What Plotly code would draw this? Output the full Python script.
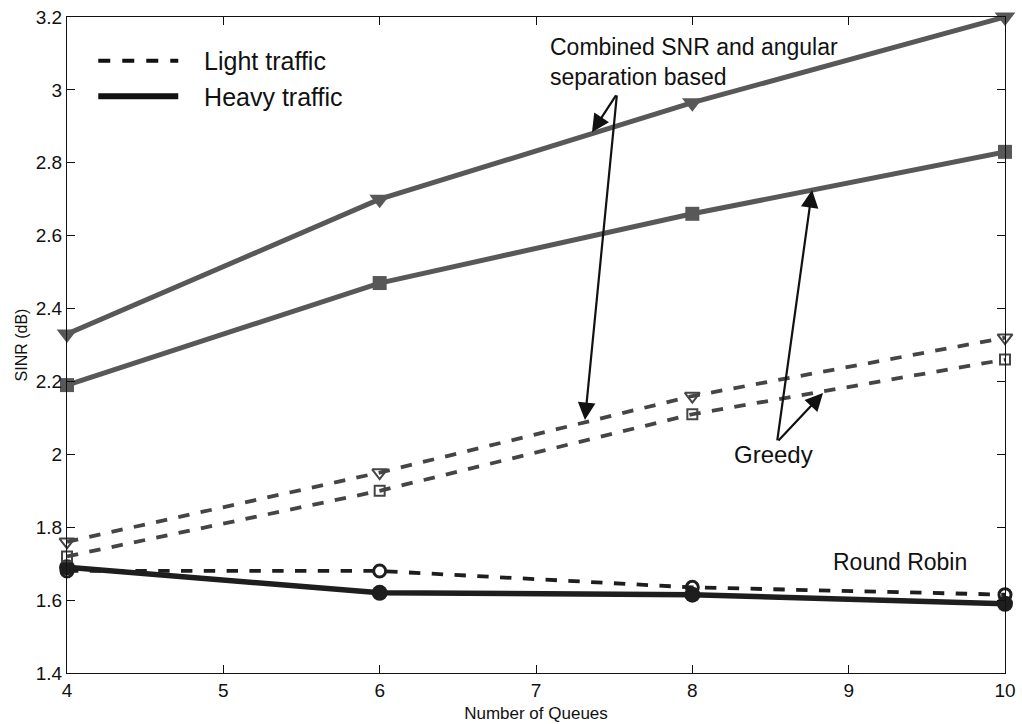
import plotly.graph_objects as go

# Number of queues and SINR (dB) for each scheduler under two traffic loads
queues = [4, 6, 8, 10]

heavy_combined = [2.33, 2.70, 2.965, 3.20]
heavy_greedy = [2.19, 2.47, 2.66, 2.83]
heavy_round_robin = [1.69, 1.62, 1.615, 1.59]

light_combined = [1.76, 1.95, 2.16, 2.32]
light_greedy = [1.72, 1.90, 2.11, 2.26]
light_round_robin = [1.68, 1.68, 1.635, 1.615]

x_ticks = [4, 5, 6, 7, 8, 9, 10]
y_ticks = [1.4, 1.6, 1.8, 2.0, 2.2, 2.4, 2.6, 2.8, 3.0, 3.2]
y_tick_text = ["1.4", "1.6", "1.8", "2", "2.2", "2.4", "2.6", "2.8", "3", "3.2"]

FONT = "Liberation Sans, Arial, Helvetica, sans-serif"
HEAVY_GRAY = "#585858"
LIGHT_GRAY = "#454545"
RR_DARK = "#1e1e1e"

fig = go.Figure()

def add_series(y, color, width, dash, symbol, size, mline=0):
    fig.add_trace(go.Scatter(
        x=queues, y=y, mode="lines+markers", showlegend=False,
        line=dict(color=color, width=width, dash=dash),
        marker=dict(symbol=symbol, size=size, color=color,
                    line=dict(color=color, width=mline)),
        cliponaxis=False,
    ))

# heavy traffic (solid)
add_series(heavy_combined, HEAVY_GRAY, 5, "solid", "triangle-down", 18)
add_series(heavy_greedy, HEAVY_GRAY, 5, "solid", "square", 14)
add_series(heavy_round_robin, RR_DARK, 5.5, "solid", "circle", 16)

# light traffic (dashed)
add_series(light_combined, LIGHT_GRAY, 3.8, "dash", "triangle-down-open", 13, 2)
add_series(light_greedy, LIGHT_GRAY, 3.8, "dash", "square-open", 10, 2)
add_series(light_round_robin, RR_DARK, 3.8, "dash", "circle-open", 12, 3)

# legend entries
pad = "\u00a0\u00a0\u00a0"
fig.add_trace(go.Scatter(x=[None], y=[None], mode="lines", name=pad + "Light traffic",
                         line=dict(color="#111", width=4, dash="dash")))
fig.add_trace(go.Scatter(x=[None], y=[None], mode="lines", name=pad + "Heavy traffic",
                         line=dict(color="#111", width=6)))

fig.add_annotation(x=7.077, y=3.158, xref="x", yref="y", xanchor="left", yanchor="top",
                   align="left", showarrow=False,
                   font=dict(family=FONT, size=23, color="#111"),
                   text="Combined SNR and angular<br>separation based")
fig.add_annotation(x=8.516, y=2.0, xref="x", yref="y", showarrow=False,
                   font=dict(family=FONT, size=24, color="#111"), text="Greedy")
fig.add_annotation(x=9.33, y=1.704, xref="x", yref="y", showarrow=False,
                   font=dict(family=FONT, size=23, color="#111"), text="Round Robin")

# pointer arrows (head, tail) in data units
arrows = [
    ((7.358, 2.884), (7.518, 2.989)),
    ((7.313, 2.094), (7.518, 2.989)),
    ((8.766, 2.725), (8.542, 2.034)),
    ((8.836, 2.168), (8.542, 2.034)),
]
for (hx, hy), (tx, ty) in arrows:
    fig.add_annotation(x=hx, y=hy, ax=tx, ay=ty, xref="x", yref="y",
                       axref="x", ayref="y", text="", showarrow=True,
                       arrowhead=2, arrowsize=1.6, arrowwidth=2.2,
                       arrowcolor="#111")

axis_common = dict(
    showline=True, linecolor="#111", linewidth=1.2, mirror="ticks",
    ticks="inside", ticklen=8, tickcolor="#111", showgrid=False, zeroline=False,
    tickfont=dict(family=FONT, size=19, color="#111"), automargin=False,
)

fig.update_xaxes(range=[4, 10], tickvals=x_ticks,
                 title=dict(text="Number of Queues", font=dict(family=FONT, size=17, color="#111"),
                            standoff=7),
                 **axis_common)
fig.update_yaxes(range=[1.4, 3.2], tickvals=y_ticks, ticktext=y_tick_text,
                 title=dict(text="SINR (dB)", font=dict(family=FONT, size=16, color="#111"),
                            standoff=4),
                 **axis_common)

fig.update_layout(
    width=1022, height=724,
    margin=dict(l=67, r=17, t=17, b=51),
    plot_bgcolor="white", paper_bgcolor="white",
    legend=dict(x=0.028, y=0.968, xanchor="left", yanchor="top",
                bgcolor="rgba(0,0,0,0)", itemwidth=80,
                font=dict(family=FONT, size=25, color="#111"),
                tracegroupgap=0),
)

fig.write_html("out.html")
